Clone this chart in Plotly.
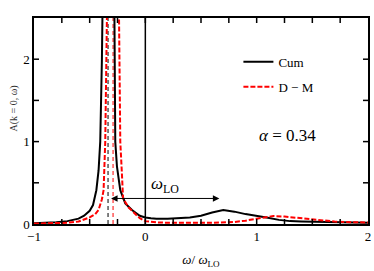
import plotly.graph_objects as go

# ---- data ----
cum_w = [-1.0, -0.9, -0.8, -0.7, -0.65, -0.6, -0.55, -0.5, -0.47, -0.44, -0.42, -0.405,
         -0.39, -0.385, -0.335, -0.28, -0.275, -0.27, -0.255, -0.225, -0.18, -0.12,
         -0.05, 0.0, 0.05, 0.1, 0.2, 0.3, 0.4, 0.5, 0.6, 0.7, 0.8, 0.9, 1.0, 1.1,
         1.2, 1.3, 1.4, 1.6, 1.8, 2.0]
cum_a = [0.01, 0.015, 0.02, 0.035, 0.05, 0.065, 0.1, 0.16, 0.23, 0.41, 0.65, 1.0,
         2.0, 3.0, 8.0, 3.0, 2.0, 1.0, 0.7, 0.41, 0.25, 0.17,
         0.1, 0.08, 0.07, 0.065, 0.065, 0.07, 0.08, 0.1, 0.14, 0.17, 0.15, 0.12, 0.1, 0.075,
         0.05, 0.035, 0.03, 0.022, 0.017, 0.015]

dm_w = [-1.0, -0.8, -0.7, -0.6, -0.557, -0.5, -0.45, -0.42, -0.39, -0.375, -0.36, -0.35,
        -0.345, -0.29, -0.24, -0.235, -0.225, -0.21, -0.2, -0.15, -0.1, -0.05, 0.0,
        0.1, 0.2, 0.4, 0.6, 0.8, 0.9, 1.0, 1.1, 1.15, 1.25, 1.4, 1.55, 1.7, 1.85, 2.0]
dm_a = [0.005, 0.01, 0.015, 0.03, 0.05, 0.08, 0.12, 0.17, 0.3, 0.41, 1.0, 2.0,
        3.0, 8.0, 3.0, 2.0, 1.0, 0.6, 0.31, 0.2, 0.13, 0.07, 0.035,
        0.02, 0.015, 0.012, 0.014, 0.025, 0.04, 0.065, 0.09, 0.097, 0.09, 0.07, 0.05, 0.03, 0.022, 0.018]

peak_cum = -0.335
peak_dm = -0.29
omega_lo = 1.0
arrow_level = 0.31
alpha_value = 0.34

x_label_vals = [-1, 0, 1, 2]
x_label_text = ["−1", "0", "1", "2"]
y_label_vals = [0, 1, 2]
y_label_text = ["0", "1", "2"]
x_tick_marks = [-0.75, -0.5, -0.25, 0, 0.25, 0.5, 0.75, 1, 1.25, 1.5, 1.75]
y_tick_marks = [0.5, 1, 1.5, 2]

FONT = "Liberation Serif"
x_range = [-1, 2]
y_range = [0, 2.5]
TICK_PX = 5
PLOT_W_PX = 334
PLOT_H_PX = 206

fig = go.Figure()

# vertical reference lines
fig.add_trace(go.Scatter(x=[0, 0], y=y_range, mode="lines",
                         line=dict(color="black", width=1.5), showlegend=False, hoverinfo="skip"))
fig.add_trace(go.Scatter(x=[peak_cum, peak_cum], y=y_range, mode="lines",
                         line=dict(color="black", width=1, dash="4px,3px"), showlegend=False, hoverinfo="skip"))
fig.add_trace(go.Scatter(x=[peak_dm, peak_dm], y=y_range, mode="lines",
                         line=dict(color="red", width=1, dash="4px,3px"), showlegend=False, hoverinfo="skip"))

fig.add_trace(go.Scatter(x=cum_w, y=cum_a, mode="lines", name="Cum",
                         line=dict(color="black", width=2), legendgroup="a"))
fig.add_trace(go.Scatter(x=dm_w, y=dm_a, mode="lines", name="D − M",
                         line=dict(color="red", width=2, dash="5px,2px"), legendgroup="b"))

# inward tick marks on all four sides, drawn as a line trace in data space
dy = (y_range[1] - y_range[0]) * TICK_PX / PLOT_H_PX
dx = (x_range[1] - x_range[0]) * TICK_PX / PLOT_W_PX
tx, ty = [], []
for v in x_tick_marks:
    tx += [v, v, None, v, v, None]
    ty += [y_range[0], y_range[0] + dy, None, y_range[1], y_range[1] - dy, None]
for v in y_tick_marks:
    tx += [x_range[0], x_range[0] + dx, None, x_range[1], x_range[1] - dx, None]
    ty += [v, v, None, v, v, None]
fig.add_trace(go.Scatter(x=tx, y=ty, mode="lines", line=dict(color="black", width=1.5),
                         showlegend=False, hoverinfo="skip", connectgaps=False))

# double-headed arrow of length omega_LO
fig.add_annotation(x=peak_cum + omega_lo, y=arrow_level, ax=peak_cum, ay=arrow_level,
                   xref="x", yref="y", axref="x", ayref="y", text=" ", showarrow=True,
                   arrowhead=2, startarrowhead=2, arrowside="end+start", arrowsize=1.3,
                   startarrowsize=1.3, arrowwidth=1, arrowcolor="black")
fig.add_annotation(x=0.175, y=0.47, xref="x", yref="y", text="<i>ω</i><sub>LO</sub>",
                   showarrow=False, font=dict(family=FONT, size=17, color="black"))
fig.add_annotation(x=1.28, y=1.08, xref="x", yref="y",
                   text=f"<i>α</i> = {alpha_value}", showarrow=False,
                   font=dict(family=FONT, size=17, color="black"))
fig.add_annotation(x=-0.085, y=0.68, xref="paper", yref="paper", text="A(k = 0, ω)",
                   textangle=-90, showarrow=False, font=dict(family=FONT, size=10, color="#333"))

fig.update_layout(
    width=374, height=271,
    margin=dict(l=34, r=6, t=18, b=47, autoexpand=False),
    paper_bgcolor="white", plot_bgcolor="white",
    font=dict(family=FONT, size=13, color="black"),
    showlegend=True,
    legend=dict(x=0.612, y=0.86, xanchor="left", yanchor="top", bgcolor="rgba(0,0,0,0)",
                font=dict(family=FONT, size=13), tracegroupgap=5, traceorder="grouped"),
    xaxis=dict(range=x_range, tickvals=x_label_vals, ticktext=x_label_text, ticks="",
               showline=True, linecolor="black", linewidth=1.5, mirror=True,
               showgrid=False, zeroline=False, automargin=False,
               title=dict(text="<i>ω</i>/ <i>ω</i><sub>LO</sub>", font=dict(size=13), standoff=12)),
    yaxis=dict(range=y_range, tickvals=y_label_vals, ticktext=y_label_text, ticks="",
               showline=True, linecolor="black", linewidth=1.5, mirror=True,
               showgrid=False, zeroline=False, automargin=False),
)

fig.write_html("out.html", config={"displayModeBar": False},
               post_script="document.body.style.margin='0';")
